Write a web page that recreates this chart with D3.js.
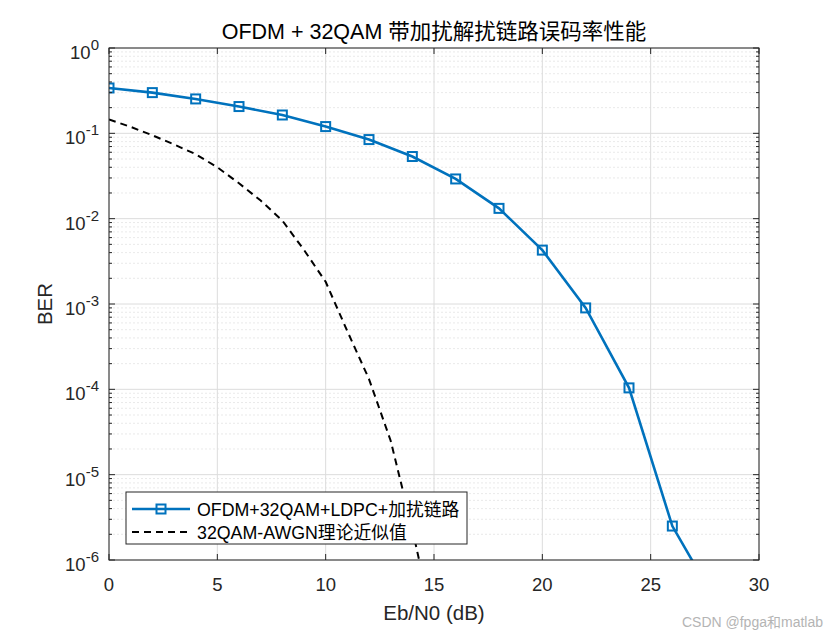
<!DOCTYPE html>
<html>
<head>
<meta charset="utf-8">
<script src="https://cdn.jsdelivr.net/npm/d3@7"></script>
<style>
  body { margin: 0; background: #fff; }
  text { font-family: Arial, "Liberation Sans", "Noto Sans CJK SC", sans-serif; }
</style>
</head>
<body>
<svg id="chart" width="840" height="630"></svg>
<script>
// simulated link (markers every 2 dB)
const ebnoSim = [0, 2, 4, 6, 8, 10, 12, 14, 16, 18, 20, 22, 24, 26, 28];
const berSim = [0.34, 0.30, 0.253, 0.206, 0.164, 0.120, 0.0845, 0.0535, 0.0292,
  0.0132, 0.00428, 0.0009, 1.04e-4, 2.5e-6, 3.3e-7];

// theory approximation
const ebnoTheory = [0, 1, 2, 3, 4, 5, 6, 7, 8, 9, 10, 11, 12, 13, 14, 15];
const berTheory = [0.145, 0.119, 0.095, 0.074, 0.057, 0.040, 0.026, 0.0163, 0.0095,
  0.0043, 0.00182, 4.8e-4, 1.32e-4, 2.5e-5, 2.3e-6, 1.6e-7];

const xTicks = [0, 5, 10, 15, 20, 25, 30];
const yTicks = [-6, -5, -4, -3, -2, -1, 0];
const legendLabels = ["OFDM+32QAM+LDPC+加扰链路", "32QAM-AWGN理论近似值"];

const svg = d3.select("#chart");
const pl = 109, pr = 759, pt = 48, pb = 560;
const blue = "#0072bd";

const x = d3.scaleLinear().domain([0, 30]).range([pl, pr]);
const y = d3.scaleLog().domain([1e-6, 1]).range([pb, pt]);

// minor grid
let minors = [];
for (let e = -6; e < 0; e++) {
  for (let m = 2; m <= 9; m++) minors.push(m * Math.pow(10, e));
}
svg.append("g").selectAll("line").data(minors).join("line")
  .attr("x1", pl).attr("x2", pr)
  .attr("y1", d => y(d)).attr("y2", d => y(d))
  .attr("stroke", "#e3e3e3").attr("stroke-dasharray", "2,2").attr("stroke-width", 0.8);

// major grid
svg.append("g").selectAll("line").data(yTicks).join("line")
  .attr("x1", pl).attr("x2", pr)
  .attr("y1", d => y(Math.pow(10, d))).attr("y2", d => y(Math.pow(10, d)))
  .attr("stroke", "#dcdcdc").attr("stroke-width", 1);
svg.append("g").selectAll("line").data(xTicks).join("line")
  .attr("x1", d => x(d)).attr("x2", d => x(d))
  .attr("y1", pt).attr("y2", pb)
  .attr("stroke", "#dcdcdc").attr("stroke-width", 1);

// data lines, clipped to the axes box
svg.append("clipPath").attr("id", "clip").append("rect")
  .attr("x", pl).attr("y", pt).attr("width", pr - pl).attr("height", pb - pt);
const plot = svg.append("g").attr("clip-path", "url(#clip)");

const line = d3.line().x(d => x(d[0])).y(d => y(d[1]));

const theoryPts = ebnoTheory.map((e, i) => [e, berTheory[i]]);
plot.append("path").datum(theoryPts).attr("d", line)
  .attr("fill", "none").attr("stroke", "#000").attr("stroke-width", 2)
  .attr("stroke-dasharray", "7,5");

const simPts = ebnoSim.map((e, i) => [e, berSim[i]]);
plot.append("path").datum(simPts).attr("d", line)
  .attr("fill", "none").attr("stroke", blue).attr("stroke-width", 2.6);

// markers only where the point is inside the axes
plot.selectAll("rect.mk").data(simPts.filter(d => d[1] >= 1e-6)).join("rect")
  .attr("class", "mk")
  .attr("x", d => x(d[0]) - 4.5).attr("y", d => y(d[1]) - 4.5)
  .attr("width", 9).attr("height", 9)
  .attr("fill", "none").attr("stroke", blue).attr("stroke-width", 2);

// axes box
svg.append("rect").attr("x", pl).attr("y", pt)
  .attr("width", pr - pl).attr("height", pb - pt)
  .attr("fill", "none").attr("stroke", "#262626").attr("stroke-width", 1);

// ticks inside on all sides
const tickG = svg.append("g").attr("stroke", "#262626").attr("stroke-width", 1);
xTicks.forEach(t => {
  tickG.append("line").attr("x1", x(t)).attr("x2", x(t)).attr("y1", pb).attr("y2", pb - 6);
  tickG.append("line").attr("x1", x(t)).attr("x2", x(t)).attr("y1", pt).attr("y2", pt + 6);
});
yTicks.forEach(t => {
  const yy = y(Math.pow(10, t));
  tickG.append("line").attr("x1", pl).attr("x2", pl + 6).attr("y1", yy).attr("y2", yy);
  tickG.append("line").attr("x1", pr).attr("x2", pr - 6).attr("y1", yy).attr("y2", yy);
});
minors.forEach(m => {
  const yy = y(m);
  tickG.append("line").attr("x1", pl).attr("x2", pl + 3).attr("y1", yy).attr("y2", yy);
  tickG.append("line").attr("x1", pr).attr("x2", pr - 3).attr("y1", yy).attr("y2", yy);
});

// tick labels
svg.append("g").selectAll("text").data(xTicks).join("text")
  .attr("x", d => x(d)).attr("y", pb + 31)
  .attr("text-anchor", "middle").attr("font-size", 18.5).attr("fill", "#262626")
  .text(d => d);

const yl = svg.append("g").selectAll("text").data(yTicks).join("text")
  .attr("x", pl - 10).attr("y", d => y(Math.pow(10, d)) + 11)
  .attr("text-anchor", "end").attr("font-size", 18.5).attr("fill", "#262626");
yl.append("tspan").text("10");
yl.append("tspan").attr("dy", -9).attr("font-size", 15).text(d => d);

// axis labels and title
svg.append("text").attr("x", (pl + pr) / 2).attr("y", 620)
  .attr("text-anchor", "middle").attr("font-size", 20.5).attr("fill", "#262626")
  .text("Eb/N0 (dB)");
svg.append("text").attr("transform", `translate(52,${(pt + pb) / 2}) rotate(-90)`)
  .attr("text-anchor", "middle").attr("font-size", 20.5).attr("fill", "#262626")
  .text("BER");
svg.append("text").attr("x", (pl + pr) / 2).attr("y", 39)
  .attr("text-anchor", "middle").attr("font-size", 21.5).attr("fill", "#000")
  .text("OFDM + 32QAM 带加扰解扰链路误码率性能");

// legend
const lg = svg.append("g");
lg.append("rect").attr("x", 126).attr("y", 492).attr("width", 341).attr("height", 52)
  .attr("fill", "#fff").attr("stroke", "#262626").attr("stroke-width", 1);
lg.append("line").attr("x1", 132).attr("x2", 190).attr("y1", 509).attr("y2", 509)
  .attr("stroke", blue).attr("stroke-width", 2.6);
lg.append("rect").attr("x", 156.5).attr("y", 504.5).attr("width", 9).attr("height", 9)
  .attr("fill", "none").attr("stroke", blue).attr("stroke-width", 2);
lg.append("line").attr("x1", 132).attr("x2", 190).attr("y1", 532).attr("y2", 532)
  .attr("stroke", "#000").attr("stroke-width", 2).attr("stroke-dasharray", "7,5");
lg.selectAll("text").data(legendLabels).join("text")
  .attr("x", 197).attr("y", (d, i) => 515.5 + i * 23.5)
  .attr("font-size", 17.8).attr("fill", "#000")
  .text(d => d);

// watermark
svg.append("text").attr("x", 823).attr("y", 627).attr("text-anchor", "end")
  .attr("font-size", 14).attr("fill", "#b4b4b4")
  .text("CSDN @fpga和matlab");
</script>
</body>
</html>
